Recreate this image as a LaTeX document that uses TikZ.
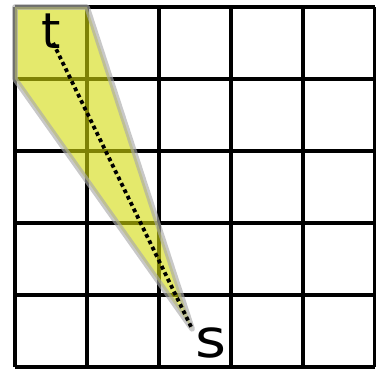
\documentclass[tikz,border=0pt]{standalone}
\usepackage{fontspec}
\setsansfont{DejaVu Sans}
\usepackage{xcolor}
\usepackage{tikz}
\usetikzlibrary{positioning}
\definecolor{conefill}{RGB}{210,218,10}
\definecolor{coneedge}{RGB}{170,170,170}

\begin{document}
\begin{tikzpicture}[
 font=\fontsize{19.5}{23}\selectfont\sffamily,
 gridline/.style={draw=black,line width=1.6pt},
 cone/.style={fill=conefill,fill opacity=0.6,draw=coneedge,draw opacity=0.65,line width=2.2pt,line join=round},
 sightline/.style={draw=black,line width=1.5pt,dash pattern=on 1.5pt off 1.3pt},
 lbl/.style={inner sep=0pt,anchor=base}
]
\useasboundingbox (-0.208,0.097) rectangle (5.014,-5.028);
\draw[gridline] (0,-5) grid (5,0);
\coordinate (tpos) at (0.53,-0.5);
\coordinate (spos) at (2.46,-4.47);
\path[cone] (0,0) -- (1,0) -- (spos) -- (0,-1) -- cycle;
\draw[sightline] (tpos) -- (spos);
\node[lbl] (t) at (0.5,-0.583) {t};
\node[lbl,font=\fontsize{21}{25}\selectfont\sffamily] (s) at (2.72,-4.87) {\scalebox{1.12}[1]{s}};
\end{tikzpicture}
\end{document}
